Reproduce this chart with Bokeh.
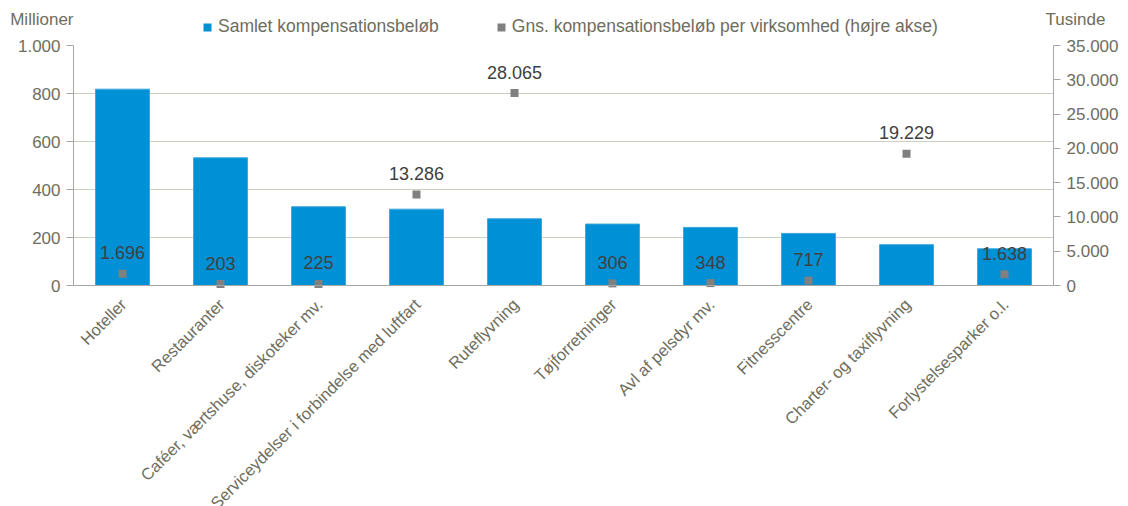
import math
from bokeh.plotting import figure
from bokeh.layouts import column
from bokeh.models import (ColumnDataSource, Range1d, LinearAxis, FactorRange, LabelSet,
                          Legend, LegendItem, CustomJSTickFormatter, FixedTicker, Span)
from bokeh.embed import file_html
from bokeh.resources import INLINE
from bokeh.core.properties import value

categories = ["Hoteller", "Restauranter", "Caféer, værtshuse, diskoteker mv.",
              "Serviceydelser i forbindelse med luftfart", "Ruteflyvning", "Tøjforretninger",
              "Avl af pelsdyr mv.", "Fitnesscentre", "Charter- og taxiflyvning",
              "Forlystelsesparker o.l."]
total_mio = [818, 532, 328, 318, 278, 256, 242, 217, 170, 153]
avg_thousand = [1696, 203, 225, 13286, 28065, 306, 348, 717, 19229, 1638]
left_ticks = [0, 200, 400, 600, 800, 1000]
right_ticks = [0, 5000, 10000, 15000, 20000, 25000, 30000, 35000]
left_max = 1000
right_max = 35000
series_names = ["Samlet kompensationsbeløb",
                "Gns. kompensationsbeløb per virksomhed (højre akse)"]
left_title = "Millioner"
right_title = "Tusinde"

FONT = "Liberation Sans"
AXIS_COL = "#6E6D5E"
LINE_COL = "#A6A6A6"
BLUE = "#0090D5"
GREY = "#808080"

W, H = 1128, 506
HEADER_H = 37
TOP_PAD = 8
FRAME_LEFT, FRAME_RIGHT = 73, 1053
PLOT_H = 240  # pixel height of 0..max on the value axes
frame_h = H - HEADER_H - TOP_PAD
below = (frame_h - PLOT_H) / PLOT_H  # part of the range kept below zero for the category labels


def fmt(v):
    return f"{v:,}".replace(",", ".")


src = ColumnDataSource(dict(cat=categories, total=total_mio, avg=avg_thousand,
                            avg_lbl=[fmt(v) for v in avg_thousand],
                            zero=[0] * len(categories)))

# ---------------- header: legend + axis titles ----------------
hdr = figure(width=W, height=HEADER_H, x_range=Range1d(0, 1), y_range=Range1d(0, HEADER_H),
             output_backend="svg", toolbar_location=None, x_axis_location=None,
             min_border_left=FRAME_LEFT, min_border_right=W - FRAME_RIGHT,
             min_border_top=0, min_border_bottom=0)
hdr.outline_line_color = None
hdr.grid.grid_line_color = None


def title_axis(ax, text, standoff):
    ax.ticker = FixedTicker(ticks=[])
    ax.axis_label = text
    ax.axis_label_orientation = "horizontal"
    ax.axis_label_standoff = standoff
    ax.axis_label_text_font = FONT
    ax.axis_label_text_font_style = "normal"
    ax.axis_label_text_font_size = "17px"
    ax.axis_label_text_color = AXIS_COL
    ax.axis_line_color = None
    ax.major_tick_line_color = None
    ax.minor_tick_line_color = None


title_axis(hdr.yaxis[0], left_title, 0)
hr = LinearAxis()
title_axis(hr, right_title, -8)
hdr.add_layout(hr, "right")

r1 = hdr.vbar(x=[-10], top=[0], width=0.1, fill_color=BLUE, line_color=None)
r2 = hdr.vbar(x=[-10], top=[0], width=0.1, fill_color=GREY, line_color=None)
legend = Legend(items=[LegendItem(label=series_names[0], renderers=[r1]),
                       LegendItem(label=series_names[1], renderers=[r2])],
                orientation="horizontal", location=(129, 0), padding=0, margin=0,
                spacing=57, glyph_width=10, glyph_height=10, label_standoff=6,
                background_fill_alpha=0, border_line_color=None,
                label_text_font=FONT, label_text_font_size="17.5px", label_text_color=AXIS_COL)
hdr.add_layout(legend)

# ---------------- main chart ----------------
p = figure(x_range=FactorRange(*categories), y_range=Range1d(-left_max * below, left_max),
           width=W, height=H - HEADER_H, output_backend="svg", toolbar_location=None,
           x_axis_location=None,
           min_border_left=FRAME_LEFT, min_border_right=W - FRAME_RIGHT,
           min_border_top=TOP_PAD, min_border_bottom=0)
p.extra_y_ranges = {"right": Range1d(-right_max * below, right_max)}
p.outline_line_color = None
p.xgrid.grid_line_color = None
p.ygrid.grid_line_color = "#CFCCC2"
p.ygrid.ticker = FixedTicker(ticks=left_ticks)

formatter = CustomJSTickFormatter(code="""
return Math.round(tick).toString().replace(/\\B(?=(\\d{3})+(?!\\d))/g, ".");
""")


def style_value_axis(ax):
    ax.formatter = formatter
    ax.minor_tick_line_color = None
    ax.major_tick_in = 0
    ax.major_tick_out = 7
    ax.major_tick_line_color = LINE_COL
    ax.axis_line_color = LINE_COL
    ax.major_label_text_font = FONT
    ax.major_label_text_font_size = "17px"
    ax.major_label_text_color = AXIS_COL
    ax.major_label_standoff = 6


ya = p.yaxis[0]
ya.ticker = FixedTicker(ticks=left_ticks)
ya.bounds = (0, left_max)
style_value_axis(ya)

ra = LinearAxis(y_range_name="right", ticker=FixedTicker(ticks=right_ticks), bounds=(0, right_max))
style_value_axis(ra)
p.add_layout(ra, "right")

# category axis baseline
p.add_layout(Span(location=0, dimension="width", line_color=LINE_COL, line_width=1))

p.vbar(x="cat", top="total", width=0.55, source=src, fill_color=BLUE,
       line_color="#3AA6DD", line_width=1)
p.scatter(x="cat", y="avg", y_range_name="right", source=src, marker="square",
          size=8, fill_color=GREY, line_color=None)
p.text(x="cat", y="avg", text="avg_lbl", y_range_name="right", source=src,
       text_align="center", text_baseline="alphabetic", y_offset=-21,
       text_font=value(FONT), text_font_size="18px", text_color="#404040")

xl = LabelSet(x="cat", y="zero", text="cat", source=src, angle=math.pi / 4,
              text_align="right", text_baseline="middle", x_offset=1, y_offset=-16,
              text_font=value(FONT), text_font_size="16.5px", text_color=AXIS_COL)
p.add_layout(xl)

layout = column(hdr, p, spacing=0)
open("out.html", "w").write(file_html(layout, INLINE))
